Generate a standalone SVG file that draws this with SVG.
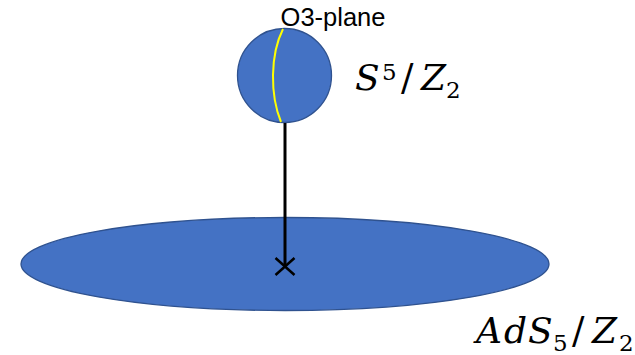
<svg xmlns="http://www.w3.org/2000/svg" width="635" height="355" viewBox="0 0 635 355">
<style>
.shape{fill:#4472C4;stroke:#2F528F;stroke-width:1.3}
.it{font-family:"DejaVu Serif",serif;font-style:italic;font-size:36px;fill:#000}
.up{font-family:"DejaVu Serif",serif;font-style:normal;font-size:37px;fill:#000}
.dig{font-family:"DejaVu Serif",serif;font-size:23px;fill:#000}
.lbl{font-family:"Liberation Sans",Arial,sans-serif;font-size:25.5px;fill:#000}
</style>
<rect width="635" height="355" fill="#fff"/>
<g id="plane">
<ellipse class="shape" cx="285" cy="264" rx="264" ry="46.5"/>
</g>
<g id="sphere">
<circle class="shape" cx="284.5" cy="75.5" r="47"/>
<path d="M283,29 C270,55 270,95 281,122" fill="none" stroke="#FFFF00" stroke-width="2"/>
</g>
<g id="connectors">
<line x1="285" y1="123" x2="285" y2="266" stroke="#000" stroke-width="3"/>
<path d="M275.5,258 L294.5,275 M294.5,258 L275.5,275" stroke="#000" stroke-width="2.5"/>
</g>
<g id="labels">
<text class="lbl" x="333" y="26" text-anchor="middle">O3-plane</text>
<text class="it" x="355" y="90">S</text>
<text class="dig" x="382" y="80">5</text>
<text class="up" x="401" y="90">/</text>
<text class="it" x="421" y="90">Z</text>
<text class="dig" x="446" y="98">2</text>
<text class="it" y="343"><tspan x="476">A</tspan><tspan x="504">d</tspan><tspan x="528">S</tspan></text>
<text class="dig" x="553" y="351">5</text>
<text class="up" x="572" y="343">/</text>
<text class="it" x="592" y="343">Z</text>
<text class="dig" x="619" y="351" font-size="22">2</text>
</g>
</svg>
